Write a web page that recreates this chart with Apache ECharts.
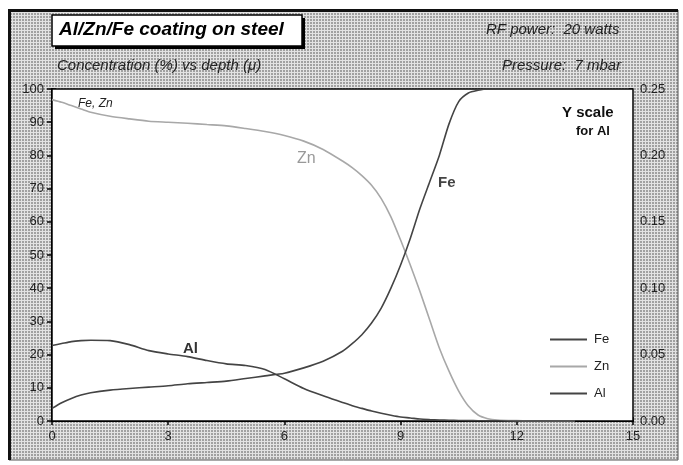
<!DOCTYPE html>
<html><head><meta charset="utf-8">
<script src="https://cdn.jsdelivr.net/npm/echarts@6/dist/echarts.min.js"></script>
<style>html,body{margin:0;padding:0;background:#fff}#c{width:683px;height:465px}</style>
</head><body><div id="c"></div>
<script>
// depth (µ)
const depth = [0,0.25,0.5,0.75,1,1.5,2,2.5,3,3.5,4,4.5,5,5.5,6,6.5,7,7.5,7.75,8,8.25,8.5,8.75,9,9.25,9.5,9.75,10,10.25,10.5,10.75,11,11.25,11.5,12,12.5,13,13.5];
// Fe concentration (%), left axis
const fe = [3.8,5.5,6.8,7.8,8.5,9.3,9.8,10.2,10.6,11.2,11.6,12.0,12.8,13.6,14.4,16.0,18.0,21,23.3,26,29.5,34,40,47,55,64,72,80,89.5,96.2,98.8,99.6,100,100,100,100,100,100];
// Zn concentration (%), left axis
const zn = [96.8,96,95,94,93,91.8,91,90.3,90,89.7,89.3,88.9,88.1,87.2,86,84.3,81.8,78.3,76.3,73.9,71.0,67.0,61.5,54.5,47,39,30.5,22,15,9,4.5,1.8,0.7,0.3,0.1,0,0,0];
// Al concentration, right axis (Y scale for Al)
const al = [0.0568,0.0583,0.0598,0.0605,0.0608,0.0605,0.0575,0.053,0.0505,0.0485,0.0455,0.043,0.0418,0.0388,0.0318,0.0245,0.019,0.014,0.0115,0.0095,0.0075,0.0058,0.0043,0.003,0.0023,0.0015,0.0011,0.0008,0.0006,0.0004,0.0003,0.0002,0.0001,0.0001,0,0,0,0];
const xTicks = [0,3,6,9,12,15];
const yLeftTicks = [0,10,20,30,40,50,60,70,80,90,100];
const yRightTicks = [0,0.05,0.10,0.15,0.20,0.25];

const FONT = 'Liberation Sans';
const pc = document.createElement('canvas');
pc.width = 3; pc.height = 3;
const g = pc.getContext('2d');
g.fillStyle = '#a0a0a0'; g.fillRect(0,0,3,3);
g.fillStyle = '#e2e2e2'; g.fillRect(0,0,3,1); g.fillRect(0,0,1,3);

const chart = echarts.init(document.getElementById('c'), null, {renderer:'canvas'});
const tickLbl = {color:'#222', fontSize:13, fontFamily:FONT};
const opt = {
  animation:false,
  backgroundColor:'#fff',
  grid:{left:52, right:50, top:89, bottom:44, show:true, backgroundColor:'#fff', borderColor:'#000', borderWidth:1.5, z:2},
  xAxis:[
    {type:'value', min:xTicks[0], max:xTicks[xTicks.length-1], interval:xTicks[1]-xTicks[0],
     axisLine:{lineStyle:{color:'#000', width:2}}, axisTick:{length:4, lineStyle:{color:'#000', width:1.5}},
     axisLabel:Object.assign({margin:9}, tickLbl), splitLine:{show:false}},
    {type:'value', min:xTicks[0], max:xTicks[xTicks.length-1], interval:xTicks[1]-xTicks[0], position:'bottom',
     axisLine:{show:false}, axisTick:{inside:true, length:4, lineStyle:{color:'#000', width:1.5}},
     axisLabel:{show:false}, splitLine:{show:false}}
  ],
  yAxis:[
    {type:'value', min:yLeftTicks[0], max:yLeftTicks[yLeftTicks.length-1], interval:yLeftTicks[1]-yLeftTicks[0], position:'left',
     axisLine:{show:true, lineStyle:{color:'#000', width:2}}, axisTick:{show:true, length:5, lineStyle:{color:'#000', width:1.5}},
     axisLabel:Object.assign({margin:8}, tickLbl), splitLine:{show:false}},
    {type:'value', min:yRightTicks[0], max:yRightTicks[yRightTicks.length-1], interval:0.05, position:'right',
     axisLine:{show:true, lineStyle:{color:'#000', width:1.5}}, axisTick:{show:true, length:4, lineStyle:{color:'#000', width:1.5}},
     axisLabel:Object.assign({margin:7, formatter:v=>v.toFixed(2)}, tickLbl), splitLine:{show:false}},
    {type:'value', min:yRightTicks[0], max:yRightTicks[yRightTicks.length-1], interval:0.05, position:'right',
     axisLine:{show:false}, axisTick:{show:true, inside:true, length:4, lineStyle:{color:'#000', width:1.5}},
     axisLabel:{show:false}, splitLine:{show:false}}
  ],
  legend:{
    orient:'vertical', left:545, top:328, icon:'rect', itemWidth:37, itemHeight:2, itemGap:14,
    textStyle:{color:'#222', fontSize:13, fontFamily:FONT, padding:[0,0,0,2]},
    data:['Fe','Zn','Al']
  },
  series:[
    {name:'Fe', type:'line', symbol:'none', xAxisIndex:0, yAxisIndex:0, z:5,
     lineStyle:{color:'#444', width:1.6}, itemStyle:{color:'#444'},
     data:depth.map((d,i)=>[d,fe[i]]), smooth:0.25},
    {name:'Zn', type:'line', symbol:'none', xAxisIndex:0, yAxisIndex:0, z:4,
     lineStyle:{color:'#a8a8a8', width:1.6}, itemStyle:{color:'#a8a8a8'},
     data:depth.map((d,i)=>[d,zn[i]]), smooth:0.25},
    {name:'Al', type:'line', symbol:'none', xAxisIndex:0, yAxisIndex:1, z:5,
     lineStyle:{color:'#444', width:1.6}, itemStyle:{color:'#444'},
     data:depth.map((d,i)=>[d,al[i]]), smooth:0.25}
  ],
  graphic:[
    {type:'rect', z:-100, shape:{x:9, y:10, width:669, height:450},
     style:{fill:{image:pc, repeat:'repeat'}, stroke:'#555', lineWidth:1}},
    {type:'rect', z:-99, shape:{x:8, y:9, width:3, height:451}, style:{fill:'#111'}},
    {type:'rect', z:-99, shape:{x:8, y:9, width:670, height:3}, style:{fill:'#111'}},
    {type:'rect', z:10, shape:{x:55, y:18, width:250, height:31}, style:{fill:'#000'}},
    {type:'rect', z:11, shape:{x:52, y:15, width:250, height:31}, style:{fill:'#fff', stroke:'#000', lineWidth:1.5}},
    {type:'text', z:12, left:59, top:20, style:{text:'Al/Zn/Fe coating on steel', font:'italic bold 19px "Liberation Sans"', fill:'#000'}},
    {type:'text', z:12, left:486, top:22, style:{text:'RF power:  20 watts', font:'italic 15px "Liberation Sans"', fill:'#222'}},
    {type:'text', z:12, left:57, top:58, style:{text:'Concentration (%) vs depth (μ)', font:'italic 15px "Liberation Sans"', fill:'#222'}},
    {type:'text', z:12, left:502, top:58, style:{text:'Pressure:  7 mbar', font:'italic 15px "Liberation Sans"', fill:'#222'}},
    {type:'text', z:12, left:78, top:98, style:{text:'Fe, Zn', font:'italic 12px "Liberation Sans"', fill:'#222'}},
    {type:'text', z:12, left:562, top:105, style:{text:'Y scale', font:'bold 15px "Liberation Sans"', fill:'#111'}},
    {type:'text', z:12, left:576, top:125, style:{text:'for Al', font:'bold 13px "Liberation Sans"', fill:'#111'}},
    {type:'text', z:12, left:297, top:151, style:{text:'Zn', font:'16px "Liberation Sans"', fill:'#999'}},
    {type:'text', z:12, left:438, top:175, style:{text:'Fe', font:'bold 15px "Liberation Sans"', fill:'#444'}},
    {type:'text', z:12, left:183, top:341, style:{text:'Al', font:'bold 15px "Liberation Sans"', fill:'#333'}}
  ]
};
chart.setOption(opt);
</script></body></html>
